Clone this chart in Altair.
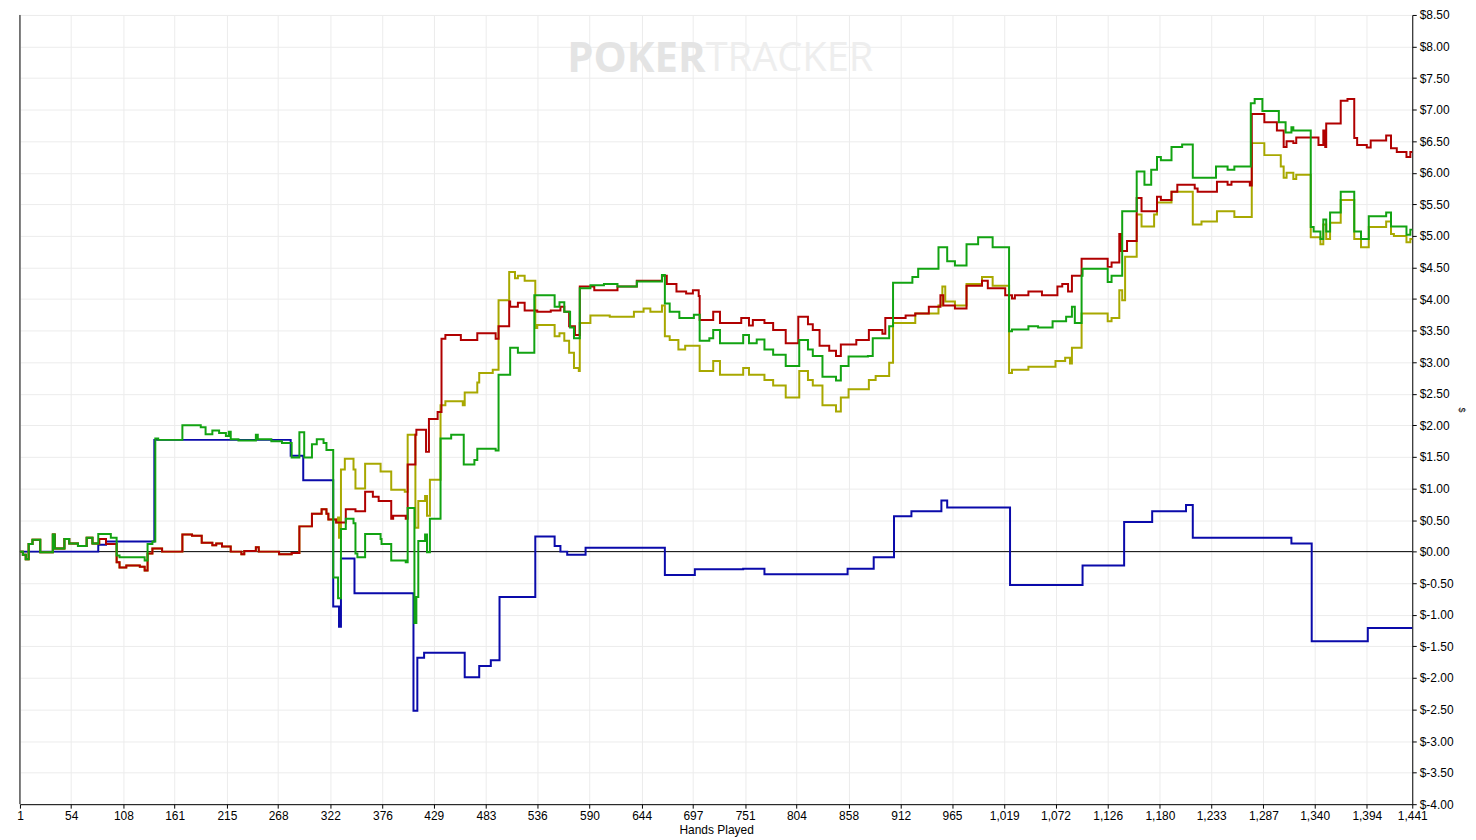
import altair as alt
import pandas as pd

# ---------------- data ----------------
x_ticks = [1, 54, 108, 161, 215, 268, 322, 376, 429, 483, 536, 590, 644, 697,
           751, 804, 858, 912, 965, 1019, 1072, 1126, 1180, 1233, 1287, 1340, 1394, 1441]
y_ticks = [-4.0, -3.5, -3.0, -2.5, -2.0, -1.5, -1.0, -0.5, 0.0, 0.5, 1.0, 1.5, 2.0,
           2.5, 3.0, 3.5, 4.0, 4.5, 5.0, 5.5, 6.0, 6.5, 7.0, 7.5, 8.0, 8.5]

blue_hands = [1, 82, 90, 140, 281, 294, 325, 331, 333, 347, 408, 412, 419, 461, 476, 488,
              497, 534, 554, 560, 567, 586, 668, 699, 749, 771, 857, 884, 905, 923, 954,
              960, 1025, 1100, 1143, 1172, 1207, 1214, 1316, 1337, 1395, 1441]
blue_vals = [0.00, 0.11, 0.16, 1.77, 1.52, 1.13, -0.87, -1.19, -0.11, -0.66, -2.52, -1.68,
             -1.60, -1.99, -1.81, -1.72, -0.72, 0.24, 0.09, 0.00, -0.05, 0.06, -0.37, -0.28,
             -0.27, -0.36, -0.27, -0.09, 0.56, 0.64, 0.81, 0.70, -0.53, -0.22, 0.47, 0.64,
             0.74, 0.22, 0.13, -1.42, -1.21, -1.21]

green_hands = [1, 4, 7, 10, 14, 22, 35, 37, 47, 52, 61, 70, 76, 82, 95, 101, 104, 130, 133,
               138, 141, 144, 169, 188, 193, 200, 207, 214, 217, 219, 227, 245, 247, 261, 272,
               282, 290, 295, 303, 308, 315, 318, 325, 330, 333, 338, 346, 348, 350, 358, 374,
               375, 385, 400, 402, 409, 411, 413, 420, 422, 425, 436, 447, 460, 471, 474, 493,
               496, 508, 516, 533, 554, 559, 564, 570, 574, 580, 591, 605, 619, 639, 665, 668,
               673, 683, 698, 704, 714, 718, 725, 749, 755, 763, 771, 780, 793, 807, 816, 821,
               831, 845, 850, 858, 878, 883, 900, 904, 924, 930, 951, 960, 968, 980, 992, 1007,
               1024, 1027, 1044, 1054, 1069, 1083, 1089, 1092, 1099, 1100, 1126, 1130, 1141,
               1156, 1164, 1171, 1177, 1181, 1192, 1203, 1214, 1238, 1250, 1257, 1274, 1278,
               1286, 1303, 1310, 1316, 1318, 1336, 1339, 1346, 1349, 1352, 1356, 1367, 1381,
               1388, 1396, 1414, 1419, 1435, 1439, 1441]
green_vals = [0.00, -0.05, -0.12, 0.12, 0.19, -0.01, 0.27, 0.05, 0.20, 0.13, 0.09, 0.22, 0.13,
              0.28, 0.22, -0.06, -0.09, -0.14, 0.12, 0.16, 1.79, 1.77, 2.00, 1.97, 1.86, 1.92,
              1.88, 1.83, 1.90, 1.78, 1.76, 1.85, 1.78, 1.75, 1.72, 1.49, 1.89, 1.49, 1.70,
              1.78, 1.72, 1.61, -0.41, -0.74, 0.36, 0.52, 0.45, -0.03, -0.09, 0.28, 0.20, 0.12,
              -0.14, -0.17, 0.69, -1.13, -0.72, 0.17, 0.27, -0.01, 0.52, 1.79, 1.85, 1.38, 1.45,
              1.63, 1.60, 2.80, 3.23, 3.15, 4.06, 3.88, 3.95, 3.80, 3.55, 3.38, 4.17, 4.22, 4.24,
              4.20, 4.28, 4.38, 3.93, 3.80, 3.70, 3.75, 3.34, 3.38, 3.51, 3.30, 3.43, 3.30, 3.36,
              3.20, 3.12, 2.94, 3.35, 3.20, 3.10, 2.77, 2.71, 2.94, 3.09, 3.10, 3.38, 3.57, 4.26,
              4.35, 4.48, 4.82, 4.60, 4.53, 4.87, 4.98, 4.82, 3.49, 3.52, 3.57, 3.55, 3.65, 3.72,
              3.88, 3.62, 4.37, 4.48, 4.27, 4.37, 5.39, 6.02, 5.81, 6.05, 6.25, 6.20, 6.41, 6.45,
              5.92, 6.10, 6.05, 6.10, 7.10, 7.17, 6.98, 6.80, 6.64, 6.72, 6.67, 5.14, 5.07, 4.95,
              5.26, 5.07, 5.37, 5.70, 5.07, 4.95, 5.31, 5.37, 5.15, 5.02, 5.10, 5.10]

red_hands = [1, 4, 7, 10, 14, 22, 35, 37, 47, 52, 61, 70, 76, 83, 90, 101, 104, 111, 125, 130,
             133, 138, 148, 169, 179, 189, 200, 204, 210, 219, 230, 233, 245, 248, 269, 282,
             290, 303, 313, 318, 320, 328, 338, 348, 358, 366, 372, 385, 387, 400, 402, 410,
             411, 421, 424, 433, 437, 441, 457, 474, 493, 496, 507, 508, 516, 523, 536, 550,
             560, 564, 569, 575, 580, 595, 619, 639, 665, 670, 680, 690, 697, 703, 704, 718,
             725, 747, 755, 759, 771, 780, 793, 806, 816, 821, 828, 838, 845, 850, 866, 879,
             893, 896, 917, 927, 941, 953, 956, 968, 980, 996, 1002, 1020, 1027, 1030, 1044,
             1058, 1074, 1079, 1085, 1089, 1099, 1126, 1130, 1138, 1140, 1146, 1156, 1161,
             1177, 1181, 1192, 1198, 1216, 1219, 1239, 1250, 1254, 1273, 1275, 1288, 1301,
             1308, 1311, 1318, 1321, 1344, 1349, 1351, 1352, 1367, 1374, 1381, 1384, 1394,
             1398, 1414, 1419, 1425, 1435, 1439, 1441]
red_vals = [0.00, -0.05, -0.12, 0.12, 0.19, -0.01, 0.27, 0.05, 0.20, 0.13, 0.09, 0.22, 0.13,
            0.20, 0.12, -0.17, -0.25, -0.22, -0.24, -0.30, -0.03, 0.05, 0.00, 0.27, 0.25, 0.14,
            0.10, 0.13, 0.08, 0.00, -0.04, 0.01, 0.07, 0.00, -0.04, -0.02, 0.40, 0.60, 0.67,
            0.60, 0.51, 0.46, 0.67, 0.64, 0.95, 0.87, 0.80, 0.52, 0.57, 0.52, 1.38, 1.85, 1.93,
            1.58, 2.10, 2.21, 3.37, 3.43, 3.35, 3.46, 3.37, 3.57, 3.96, 3.88, 3.94, 3.82, 3.80,
            3.82, 3.88, 3.80, 3.57, 3.43, 4.20, 4.14, 4.20, 4.29, 4.37, 4.24, 4.12, 4.09, 4.14,
            4.05, 3.67, 3.80, 3.62, 3.70, 3.58, 3.67, 3.62, 3.51, 3.30, 3.72, 3.60, 3.51, 3.26,
            3.18, 3.10, 3.28, 3.35, 3.51, 3.45, 3.70, 3.74, 3.77, 3.88, 4.06, 3.90, 3.85, 4.21,
            4.29, 4.17, 4.06, 4.01, 4.06, 4.12, 4.06, 4.20, 4.24, 4.12, 4.37, 4.64, 4.51, 4.58,
            5.03, 4.76, 4.92, 5.60, 5.39, 5.62, 5.57, 5.70, 5.81, 5.75, 5.70, 5.86, 5.81, 5.86,
            5.80, 6.93, 6.80, 6.67, 6.41, 6.50, 6.47, 6.56, 6.44, 6.67, 6.41, 6.78, 7.14, 7.17,
            6.55, 6.44, 6.40, 6.51, 6.59, 6.39, 6.33, 6.25, 6.33, 6.33]

olive_hands = [1, 4, 7, 10, 14, 22, 35, 37, 47, 52, 61, 70, 76, 83, 90, 101, 104, 111, 125,
               130, 133, 138, 148, 169, 179, 189, 200, 204, 210, 219, 230, 233, 245, 248, 269,
               282, 290, 303, 313, 318, 320, 328, 330, 331, 333, 337, 346, 348, 358, 374, 385,
               399, 402, 410, 413, 420, 422, 425, 436, 441, 459, 461, 474, 476, 490, 496, 507,
               513, 516, 523, 534, 536, 554, 559, 564, 569, 574, 579, 580, 591, 611, 636, 646,
               653, 665, 668, 673, 682, 689, 704, 718, 725, 749, 755, 771, 780, 793, 807, 816,
               821, 831, 845, 850, 858, 879, 886, 900, 904, 927, 951, 955, 958, 968, 980, 996,
               1007, 1024, 1027, 1044, 1072, 1082, 1087, 1089, 1099, 1126, 1130, 1138, 1141,
               1144, 1156, 1161, 1174, 1177, 1192, 1214, 1223, 1239, 1257, 1275, 1288, 1305,
               1308, 1311, 1318, 1321, 1336, 1346, 1349, 1352, 1356, 1367, 1381, 1388, 1396,
               1414, 1419, 1422, 1435, 1439, 1441]
olive_vals = [0.00, -0.05, -0.12, 0.12, 0.19, -0.01, 0.27, 0.05, 0.20, 0.13, 0.09, 0.22, 0.13,
              0.20, 0.12, -0.17, -0.25, -0.22, -0.24, -0.30, -0.03, 0.05, 0.00, 0.27, 0.25,
              0.14, 0.10, 0.13, 0.08, 0.00, -0.04, 0.01, 0.07, 0.00, -0.04, -0.02, 0.40, 0.60,
              0.67, 0.60, 0.51, 0.46, 0.54, 0.22, 1.30, 1.47, 1.30, 1.00, 1.39, 1.27, 0.98, 0.95,
              1.85, 0.38, 0.80, 0.88, 0.57, 1.14, 2.32, 2.38, 2.32, 2.52, 2.68, 2.83, 2.88, 3.98,
              4.43, 4.33, 4.37, 4.29, 3.54, 3.59, 3.41, 3.46, 3.34, 3.15, 2.91, 2.86, 3.62, 3.74,
              3.72, 3.80, 3.85, 3.80, 3.90, 3.41, 3.35, 3.20, 3.26, 2.86, 3.02, 2.80, 2.91, 2.80,
              2.72, 2.63, 2.44, 2.86, 2.72, 2.63, 2.32, 2.22, 2.44, 2.57, 2.72, 2.78, 2.99, 3.62,
              3.77, 3.90, 4.20, 3.96, 3.90, 4.24, 4.35, 4.21, 2.83, 2.88, 2.93, 3.02, 3.07, 2.98,
              3.23, 3.77, 3.65, 3.70, 4.14, 3.98, 4.67, 5.34, 5.15, 5.34, 5.53, 5.70, 5.18, 5.23,
              5.39, 5.30, 6.47, 6.28, 6.10, 5.92, 6.00, 5.90, 5.97, 4.98, 4.87, 5.18, 4.95, 5.21,
              5.57, 4.95, 4.82, 5.14, 5.23, 5.03, 5.00, 4.90, 4.95, 4.95]

# drawing order: first is at the bottom
series = [
    ("blue", blue_hands, blue_vals, "#0a0aaa"),
    ("olive", olive_hands, olive_vals, "#a8a800"),
    ("red", red_hands, red_vals, "#b00000"),
    ("green", green_hands, green_vals, "#12a312"),
]

FONT = "Liberation Sans"
W, H = 1399, 793

x_scale = alt.Scale(domain=[1, 1441], nice=False, zero=False)
y_scale = alt.Scale(domain=[-4, 8.5], nice=False, zero=False)

x_axis = alt.Axis(
    values=x_ticks, format=",d", title="Hands Played", orient="bottom",
    grid=True, gridColor="#ececec", gridWidth=1,
    domainColor="black", domainWidth=1, tickColor="black", tickSize=4,
    labelFont=FONT, labelFontSize=12, labelColor="black", labelPadding=2,
    labelFlush=False, labelOverlap=False,
    titleFont=FONT, titleFontSize=12, titleFontWeight="normal", titleColor="black",
    titlePadding=3,
)
y_axis = alt.Axis(
    values=y_ticks, orient="right", title="$",
    labelExpr="datum.value < 0 ? '$-' + format(-datum.value, '.2f') : '$' + format(datum.value, '.2f')",
    grid=True, gridColor="#ececec", gridWidth=1,
    domainColor="black", domainWidth=1, tickColor="black", tickSize=4,
    labelFont=FONT, labelFontSize=12, labelColor="black", labelPadding=3,
    labelFlush=False, labelOverlap=False,
    titleFont=FONT, titleFontSize=9, titleFontWeight="normal", titleColor="black",
    titleAngle=90, titlePadding=3,
)

layers = []

# watermark
wm1 = alt.Chart(pd.DataFrame({"t": ["POKER"]})).mark_text(
    font="Open Sans", fontSize=42, fontWeight="bold", color="#e4e4e4",
    align="left", baseline="middle"
).encode(text="t:N", x=alt.value(550), y=alt.value(44))
wm2 = alt.Chart(pd.DataFrame({"t": ["TRACKER"]})).mark_text(
    font="Open Sans", fontSize=40, fontWeight="normal", color="#eeeeee",
    align="left", baseline="middle"
).encode(text="t:N", x=alt.value(689), y=alt.value(44))
layers += [wm1, wm2]

# zero line
zero = alt.Chart(pd.DataFrame({"val": [0.0]})).mark_rule(color="black", strokeWidth=1).encode(
    y=alt.Y("val:Q", scale=y_scale, axis=y_axis)
)
layers.append(zero)

# left border
left = alt.Chart(pd.DataFrame({"a": [0]})).mark_rule(color="black", strokeWidth=1).encode(
    x=alt.value(0), y=alt.value(0), y2=alt.value(H)
)
layers.append(left)

for name, hands, vals, col in series:
    df = pd.DataFrame({"hand": hands, "val": vals})
    layers.append(
        alt.Chart(df).mark_line(color=col, strokeWidth=2, interpolate="step-after").encode(
            x=alt.X("hand:Q", scale=x_scale, axis=x_axis),
            y=alt.Y("val:Q", scale=y_scale, axis=y_axis),
        )
    )

chart = alt.layer(*layers).properties(
    width=W, height=H,
    padding={"left": 12, "top": 5, "right": 56, "bottom": 34},
    autosize=alt.AutoSizeParams(type="none"),
    background="white",
).configure_view(stroke=None)

chart.save("out.html", embed_options={"renderer": "svg", "actions": False})
